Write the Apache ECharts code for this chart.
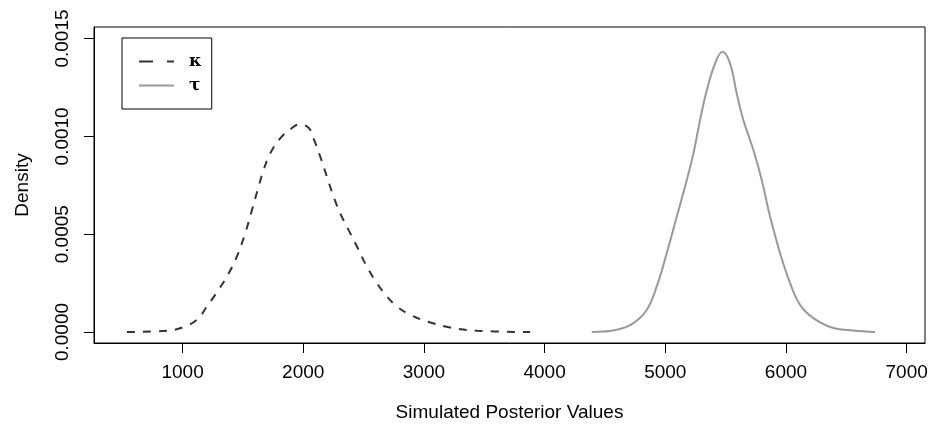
<!DOCTYPE html>
<html>
<head>
<meta charset="utf-8">
<script src="https://cdn.jsdelivr.net/npm/echarts@6/dist/echarts.min.js"></script>
<style>
  html, body { margin: 0; padding: 0; background: #fff; }
  #main { width: 935px; height: 429px; }
</style>
</head>
<body>
<div id="main"></div>
<script>
// kappa 后验密度 (x, density)
var kappaX = [539, 871, 1009, 1119, 1202, 1298, 1368, 1450, 1519, 1575, 1630, 1671, 1726, 1809, 1892, 1967,
  2044, 2085, 2141, 2196, 2251, 2306, 2375, 2445, 2527, 2610, 2693, 2776, 2886, 3024, 3217, 3438, 3880];
var kappaY = [0, 0.0000066, 0.0000255, 0.0000628, 0.000131, 0.000216, 0.000284, 0.000386, 0.000505, 0.000624,
  0.000743, 0.000828, 0.000913, 0.00099, 0.001036, 0.001061, 0.001044, 0.00099, 0.000896, 0.000794, 0.000692,
  0.000607, 0.000522, 0.000437, 0.000335, 0.00025, 0.000182, 0.000131, 0.0000883, 0.0000541, 0.0000235,
  0.0000066, 0];
// tau 后验密度
var tauX = [4391, 4598, 4736, 4847, 4929, 5012, 5095, 5178, 5233, 5288, 5344, 5412, 5473, 5537, 5592, 5647,
  5730, 5799, 5868, 5951, 6034, 6117, 6227, 6392, 6558, 6737];
var tauY = [0, 0.0000117, 0.0000459, 0.000114, 0.000233, 0.000403, 0.00059, 0.000777, 0.000913, 0.001083,
  0.001236, 0.001372, 0.001432, 0.001372, 0.001219, 0.001083, 0.00093, 0.000777, 0.00059, 0.000403, 0.00025,
  0.000139, 0.0000714, 0.0000204, 0.0000082, 0];
// 刻度
var xTicks = [1000, 2000, 3000, 4000, 5000, 6000, 7000];
var yTicks = [0, 0.0005, 0.001, 0.0015];

function pairs(xs, ys) {
  var out = [];
  for (var i = 0; i < xs.length; i++) {
    out.push([xs[i], ys[i]]);
  }
  return out;
}

var font = 'Liberation Sans, Arial, sans-serif';
var chart = echarts.init(document.getElementById('main'));
var option = {
  animation: false,
  backgroundColor: '#fff',
  grid: {
    left: 94,
    right: 10,
    top: 27,
    bottom: 86,
    show: true,
    borderColor: '#000',
    borderWidth: 1
  },
  legend: {
    orient: 'vertical',
    left: 122,
    top: 38,
    padding: [15, 10, 15, 16],
    itemWidth: 35,
    itemHeight: 14,
    itemGap: 7,
    borderColor: '#000',
    borderWidth: 1,
    itemStyle: { opacity: 0 },
    textStyle: {
      fontFamily: 'DejaVu Serif, Liberation Serif, serif',
      fontWeight: 'bold',
      fontSize: 17,
      lineHeight: 14,
      color: '#000',
      padding: [0, 0, 0, 10]
    },
    data: [
      { name: 'κ', lineStyle: { type: [14, 14], width: 2, color: '#333333' } },
      { name: 'τ', lineStyle: { type: 'solid', width: 2, color: '#999999' } }
    ]
  },
  xAxis: {
    type: 'value',
    min: 266,
    max: 7152,
    name: 'Simulated Posterior Values',
    nameLocation: 'middle',
    nameGap: 60,
    nameTextStyle: { fontFamily: font, fontSize: 19, color: '#000' },
    splitLine: { show: false },
    axisLine: { show: true, onZero: false, lineStyle: { color: '#000', width: 1 } },
    axisTick: { show: true, length: 10, lineStyle: { color: '#000' }, customValues: xTicks },
    axisLabel: {
      fontFamily: font, fontSize: 19, color: '#000', margin: 20,
      customValues: xTicks,
      formatter: function(v) { return String(v); }
    }
  },
  yAxis: {
    type: 'value',
    min: -0.000056,
    max: 0.001559,
    name: 'Density',
    nameLocation: 'middle',
    nameGap: 62,
    nameTextStyle: { fontFamily: font, fontSize: 19, color: '#000' },
    splitLine: { show: false },
    axisLine: { show: true, onZero: false, lineStyle: { color: '#000', width: 1 } },
    axisTick: { show: true, length: 10, lineStyle: { color: '#000' }, customValues: yTicks },
    axisLabel: {
      fontFamily: font, fontSize: 19, color: '#000', margin: 22, rotate: 90,
      customValues: yTicks,
      formatter: function(v) { return v.toFixed(4); }
    }
  },
  series: [{
    name: 'κ',
    type: 'line',
    symbol: 'none',
    smooth: 0.4,
    data: pairs(kappaX, kappaY),
    lineStyle: { color: '#333333', width: 2, type: [8, 8] },
    itemStyle: { color: '#333333' }
  }, {
    name: 'τ',
    type: 'line',
    symbol: 'none',
    smooth: 0.4,
    data: pairs(tauX, tauY),
    lineStyle: { color: '#999999', width: 2, type: 'solid' },
    itemStyle: { color: '#999999' }
  }]
};
chart.setOption(option);
</script>
</body>
</html>
